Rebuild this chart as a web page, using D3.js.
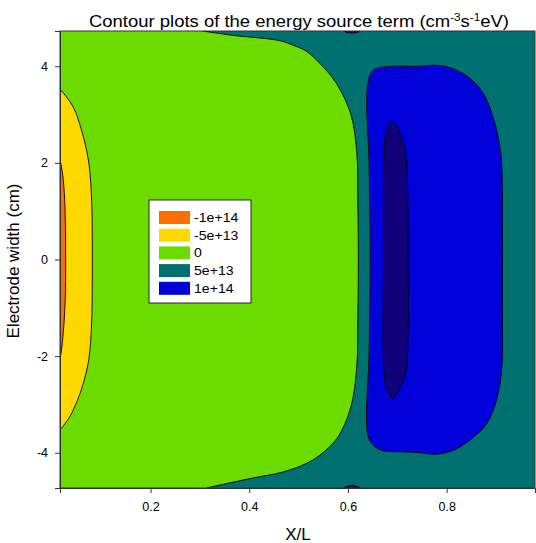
<!DOCTYPE html>
<html>
<head>
<meta charset="utf-8">
<title>Energy source term contours</title>
<script src="https://cdn.jsdelivr.net/npm/d3@7"></script>
<style>
  body { margin: 0; background: #fff; }
  text { font-family: Arial, "Liberation Sans", sans-serif; fill: #000; }
</style>
</head>
<body>
<div id="chart"></div>
<script>
// contour levels shown in the legend
var levels = ["-1e+14", "-5e+13", "0", "5e+13", "1e+14"];
var levelColors = ["#ff6e00", "#ffd800", "#6cdc00", "#007070", "#0000d8"];
var peakColor = "#10007a";

var xTicks = [0.2, 0.4, 0.6, 0.8];
var yTicks = [-4, -2, 0, 2, 4];

// contour boundaries, [X/L, width in cm]
// zero contour: right edge of the green area (top to bottom)
var zeroLine = [[0.305, 4.73], [0.367, 4.64], [0.462, 4.53], [0.488, 4.44], [0.516, 4.31],
  [0.543, 4.06], [0.577, 3.64], [0.606, 3.0], [0.618, 2.2], [0.620, 1.2], [0.621, 0],
  [0.620, -1.2], [0.618, -2.2], [0.606, -3.05], [0.578, -3.70], [0.543, -4.05],
  [0.516, -4.22], [0.468, -4.40], [0.404, -4.53], [0.313, -4.73]];
// -5e13 contour near the left electrode
var minus5Line = [[0.0165, 3.53], [0.043, 3.16], [0.060, 2.68], [0.074, 2.06], [0.080, 1.37],
  [0.082, 0], [0.080, -1.45], [0.074, -2.12], [0.062, -2.62], [0.052, -2.91],
  [0.036, -3.26], [0.0165, -3.53]];
// -1e14 contour
var minus10Line = [[0.0165, 2.07], [0.022, 1.75], [0.026, 1.23], [0.028, 0], [0.027, -0.84],
  [0.023, -1.53], [0.018, -1.98], [0.0165, -2.04]];
// 1e14 closed contour
var plus10Loop = [[0.651, 3.92], [0.678, 3.99], [0.746, 4.00], [0.780, 4.02], [0.813, 3.95],
  [0.847, 3.75], [0.874, 3.44], [0.894, 2.95], [0.908, 2.33], [0.912, 1.85], [0.913, 0],
  [0.913, -1.2], [0.912, -2.22], [0.901, -2.91], [0.881, -3.40], [0.847, -3.74],
  [0.813, -3.95], [0.780, -4.03], [0.746, -4.00], [0.712, -3.98], [0.671, -3.96],
  [0.651, -3.84], [0.640, -3.62], [0.643, -1.9], [0.645, 0], [0.643, 1.9], [0.640, 3.62]];
// inner peak contour
var peakLoop = [[0.690, 2.86], [0.705, 2.61], [0.717, 2.19], [0.721, 1.43], [0.722, 0],
  [0.722, -1.46], [0.717, -2.36], [0.705, -2.67], [0.690, -2.87], [0.677, -2.62],
  [0.672, -2.08], [0.672, 0], [0.673, 2.08], [0.677, 2.62]];
// tiny peaks touching the top and bottom edges
var topBlob = [[0.585, 4.80], [0.595, 4.71], [0.608, 4.69], [0.621, 4.71], [0.632, 4.80]];
var bottomBlob = [[0.585, -4.80], [0.595, -4.71], [0.608, -4.68], [0.621, -4.71], [0.634, -4.80]];

var xMin = 0.0165, xMax = 0.979, yMin = -4.73, yMax = 4.73;

var W = 536, H = 543;
var m = {left: 60, right: 1, top: 31, bottom: 55};

var svg = d3.select("#chart").append("svg").attr("width", W).attr("height", H);

var x = d3.scaleLinear().domain([xMin, xMax]).range([m.left, W - m.right]);
var y = d3.scaleLinear().domain([yMin, yMax]).range([H - m.bottom, m.top]);

svg.append("defs").append("clipPath").attr("id", "plot")
  .append("rect").attr("x", x(xMin)).attr("y", y(yMax))
  .attr("width", x(xMax) - x(xMin)).attr("height", y(yMin) - y(yMax));

var g = svg.append("g").attr("clip-path", "url(#plot)");

var curve = d3.line().x(function (d) { return x(d[0]); }).y(function (d) { return y(d[1]); })
  .curve(d3.curveCatmullRom.alpha(0.5));
var loop = d3.line().x(function (d) { return x(d[0]); }).y(function (d) { return y(d[1]); })
  .curve(d3.curveCatmullRomClosed.alpha(0.5));

// open boundary closed along the left frame
function leftArea(pts) {
  var first = pts[0], last = pts[pts.length - 1];
  return curve(pts) + "L" + x(xMin - 0.01) + "," + y(last[1]) + "L" + x(xMin - 0.01) + "," + y(first[1]) + "Z";
}
function edgeArea(pts) {
  return curve(pts) + "Z";
}

// background: 5e13 band
g.append("rect").attr("x", x(xMin)).attr("y", y(yMax))
  .attr("width", x(xMax) - x(xMin)).attr("height", y(yMin) - y(yMax))
  .attr("fill", levelColors[3]);

var fills = [
  {d: leftArea(zeroLine), c: levelColors[2], line: curve(zeroLine)},
  {d: leftArea(minus5Line), c: levelColors[1], line: curve(minus5Line)},
  {d: leftArea(minus10Line), c: levelColors[0], line: curve(minus10Line)},
  {d: loop(plus10Loop), c: levelColors[4], line: loop(plus10Loop)},
  {d: loop(peakLoop), c: peakColor, line: loop(peakLoop)},
  {d: edgeArea(topBlob), c: peakColor, line: curve(topBlob)},
  {d: edgeArea(bottomBlob), c: peakColor, line: curve(bottomBlob)}
];

fills.forEach(function (f) {
  g.append("path").attr("d", f.d).attr("fill", f.c).attr("stroke", "none");
  g.append("path").attr("d", f.line).attr("fill", "none")
    .attr("stroke", "#000").attr("stroke-width", 0.9);
});

// frame
svg.append("rect").attr("x", x(xMin)).attr("y", y(yMax))
  .attr("width", x(xMax) - x(xMin)).attr("height", y(yMin) - y(yMax))
  .attr("fill", "none").attr("stroke", "#333").attr("stroke-width", 1);

// axes
var xAxis = svg.append("g").attr("transform", "translate(0," + y(yMin) + ")")
  .call(d3.axisBottom(x).tickValues(xTicks).tickSize(5).tickPadding(9).tickFormat(d3.format(".1f")));
var yAxis = svg.append("g").attr("transform", "translate(" + x(xMin) + ",0)")
  .call(d3.axisLeft(y).tickValues(yTicks).tickSize(5).tickPadding(7).tickFormat(function (d) { return d < 0 ? "-" + Math.abs(d) : d; }));
[xAxis, yAxis].forEach(function (a) {
  a.select(".domain").attr("stroke", "#333");
  a.selectAll(".tick line").attr("stroke", "#333");
  a.selectAll(".tick text").attr("font-size", 12.5).attr("font-family", "Arial, 'Liberation Sans', sans-serif").attr("fill", "#000");
});

// titles (the original type is set a little wide)
var title = svg.append("text").attr("transform", "translate(299,27) scale(1.12,1)")
  .attr("text-anchor", "middle").attr("font-size", 16.5);
title.append("tspan").text("Contour plots of the energy source term (cm");
title.append("tspan").attr("font-size", 10.5).attr("dy", -6).text("-3");
title.append("tspan").attr("dy", 6).text("s");
title.append("tspan").attr("font-size", 10.5).attr("dy", -6).text("-1");
title.append("tspan").attr("dy", 6).text("eV)");

svg.append("text").attr("x", 298).attr("y", 540).attr("text-anchor", "middle")
  .attr("font-size", 17).text("X/L");

svg.append("text").attr("transform", "translate(19,261) rotate(-90)").attr("text-anchor", "middle")
  .attr("font-size", 17).text("Electrode width (cm)");

// legend
var lg = svg.append("g").attr("transform", "translate(149,200)");
lg.append("rect").attr("width", 102).attr("height", 103).attr("fill", "#fff")
  .attr("stroke", "#222").attr("stroke-width", 1);
levels.forEach(function (lv, i) {
  lg.append("rect").attr("x", 10).attr("y", 11 + i * 17.7).attr("width", 31).attr("height", 13)
    .attr("fill", levelColors[i]);
  lg.append("text").attr("transform", "translate(45," + (11 + i * 17.7 + 11) + ") scale(1.13,1)")
    .attr("font-size", 12.5).text(lv);
});
</script>
</body>
</html>
